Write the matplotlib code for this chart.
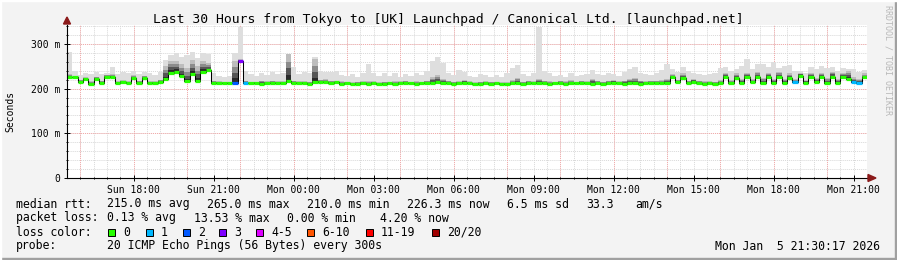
import numpy as np
import matplotlib
matplotlib.use("Agg")
import matplotlib.pyplot as plt
from matplotlib.patches import Rectangle, Polygon

W, H = 897, 260
STEP_H = 0.2  # one sample every 12 minutes, 150 samples over 30 hours

# median rtt (ms), upper edge of the dense smoke, and max ping (ms)
median = [
    227, 227, 215, 221, 211, 222, 213, 226, 226, 212,
    214, 212, 224, 213, 223, 212, 212, 214, 221, 236,
    238, 228, 216, 232, 218, 238, 241, 213, 212, 212,
    212, 213, 262, 212, 212, 213, 211, 212, 212, 213,
    212, 218, 213, 212, 212, 211, 214, 215, 214, 212,
    214, 211, 212, 210, 211, 212, 211, 212, 210, 211,
    212, 211, 212, 213, 212, 211, 212, 212, 213, 214,
    213, 212, 211, 212, 213, 212, 210, 211, 212, 211,
    212, 211, 210, 212, 212, 211, 213, 212, 213, 212,
    211, 212, 213, 211, 212, 212, 213, 212, 211, 212,
    211, 212, 213, 212, 211, 212, 213, 211, 212, 212,
    213, 212, 213, 225, 214, 224, 212, 215, 212, 211,
    212, 211, 213, 226, 212, 224, 213, 226, 214, 227,
    213, 226, 212, 225, 213, 224, 214, 228, 213, 226,
    214, 226, 212, 227, 213, 226, 222, 214, 212, 225,
]
smoke_dark = [
    232, 224, 220, 226, 216, 227, 218, 231, 232, 217,
    219, 216, 230, 218, 229, 216, 216, 220, 250, 262,
    262, 255, 245, 265, 250, 262, 258, 218, 216, 215,
    215, 262, 266, 218, 215, 215, 218, 216, 218, 216,
    216, 278, 218, 216, 216, 215, 267, 220, 222, 218,
    218, 216, 215, 214, 215, 216, 216, 217, 214, 215,
    215, 216, 216, 218, 215, 216, 215, 218, 225, 230,
    222, 218, 215, 216, 220, 216, 214, 215, 217, 215,
    215, 214, 214, 220, 224, 215, 218, 216, 222, 218,
    216, 215, 218, 216, 220, 215, 218, 216, 222, 218,
    215, 218, 220, 216, 218, 222, 224, 218, 216, 218,
    218, 220, 222, 232, 220, 234, 218, 222, 218, 216,
    216, 215, 219, 234, 220, 234, 222, 236, 222, 237,
    224, 236, 222, 238, 222, 234, 222, 236, 220, 236,
    224, 236, 224, 238, 222, 236, 240, 226, 222, 234,
]
smoke_max = [
    282, 240, 230, 235, 232, 237, 232, 236, 248, 232,
    238, 234, 240, 232, 238, 236, 230, 238, 265, 275,
    280, 270, 275, 282, 268, 280, 278, 236, 228, 226,
    228, 280, 338, 240, 232, 228, 235, 230, 238, 232,
    236, 252, 248, 232, 238, 236, 270, 240, 238, 238,
    240, 230, 228, 232, 226, 235, 256, 234, 228, 234,
    228, 236, 226, 232, 228, 234, 230, 240, 262, 271,
    258, 236, 230, 241, 238, 228, 226, 232, 230, 226,
    230, 226, 234, 245, 252, 232, 228, 234, 338, 240,
    236, 228, 230, 226, 234, 228, 230, 232, 241, 232,
    230, 236, 232, 228, 238, 244, 248, 236, 232, 230,
    236, 242, 256, 244, 238, 248, 240, 236, 232, 230,
    232, 234, 245, 248, 240, 244, 250, 267, 244, 256,
    256, 248, 259, 246, 250, 252, 240, 240, 236, 248,
    244, 250, 246, 248, 240, 246, 243, 244, 238, 242,
]
# samples with packet loss (index -> lost pings)
loss_at = {31: 2, 32: 3, 33: 1, 136: 1, 147: 1, 148: 1}

loss_names = ["0", "1", "2", "3", "4-5", "6-10", "11-19", "20/20"]
loss_colors = ["#26ff00", "#00b8ff", "#0059ff", "#7e00ff",
               "#dd00ff", "#ff5500", "#ff0000", "#a00000"]

tick_hours = [2.5, 5.5, 8.5, 11.5, 14.5, 17.5, 20.5, 23.5, 26.5, 29.5]
tick_labels = ["Sun 18:00", "Sun 21:00", "Mon 00:00", "Mon 03:00", "Mon 06:00",
               "Mon 09:00", "Mon 12:00", "Mon 15:00", "Mon 18:00", "Mon 21:00"]

MONO = "DejaVu Sans Mono"
plt.rcParams["font.family"] = MONO

fig = plt.figure(figsize=(W / 100, H / 100), dpi=100, facecolor="#f3f3f3")
px = lambda x, y: (x / W, 1 - y / H)

# 3d frame of the canvas
fig.patches.append(Rectangle((0, 0), 1, 2 / H, transform=fig.transFigure,
                             color="#a0a0a0", zorder=0))
fig.patches.append(Rectangle((1 - 2 / W, 0), 2 / W, 1, transform=fig.transFigure,
                             color="#a0a0a0", zorder=0))
fig.patches.append(Rectangle((0, 1 - 1 / H), 1, 1 / H, transform=fig.transFigure,
                             color="#ffffff", zorder=0))
fig.patches.append(Rectangle((0, 0), 1 / W, 1, transform=fig.transFigure,
                             color="#ffffff", zorder=0))

ax = fig.add_axes([67 / W, 82 / H, 800 / W, 153 / H])
ax.set_facecolor("white")
ymax = 153 / 0.447
ax.set_xlim(0, 30)
ax.set_ylim(0, ymax)

# grid
for h in np.arange(0, 30.01, 0.5):
    ax.axvline(h, color="#d8d8d8", lw=0.7, ls=(0, (1, 1)), zorder=0.5)
for v in np.arange(20, ymax, 20):
    ax.axhline(v, color="#d8d8d8", lw=0.7, ls=(0, (1, 1)), zorder=0.5)
for h in np.arange(0.5, 30, 2):
    ax.axvline(h, color="#f4a8a8", lw=0.7, ls=(0, (1, 1)), zorder=0.6)
for v in [100, 200, 300]:
    ax.axhline(v, color="#f4a8a8", lw=0.7, ls=(0, (1, 1)), zorder=0.6)

# smoke
n = len(median)
xe = np.arange(n + 1) * STEP_H
med = np.array(median + median[-1:], dtype=float)
dark = np.array(smoke_dark + smoke_dark[-1:], dtype=float)
top = np.array(smoke_max + smoke_max[-1:], dtype=float)
ax.fill_between(xe, med, top, step="post", color="#dedede", lw=0, zorder=1)
for f, c in [(1.0, "#bdbdbd"), (0.7, "#8c8c8c"), (0.45, "#555555"), (0.2, "#2a2a2a")]:
    ax.fill_between(xe, med, med + (dark - med) * f, step="post", color=c, lw=0, zorder=1.1)

# median line coloured by loss
ax.step(xe, med, where="post", color="black", lw=0.75, zorder=2)
for i, m in enumerate(median):
    k = loss_at.get(i, 0)
    ax.hlines(m, i * STEP_H, (i + 1) * STEP_H, color=loss_colors[k], lw=2.3, zorder=3)

# axes and ticks
for s in ["top", "right"]:
    ax.spines[s].set_visible(False)
for s in ["bottom", "left"]:
    ax.spines[s].set_linewidth(0.8)
    ax.spines[s].set_zorder(4)
ax.set_xticks(tick_hours)
ax.set_xticklabels(tick_labels)
ax.set_xticks(np.arange(0.5, 30, 0.5), minor=True)
ax.set_yticks([0, 100, 200, 300])
ax.set_yticklabels(["0", "100 m", "200 m", "300 m"])
ax.set_yticks(np.arange(20, ymax, 20), minor=True)
ax.tick_params(which="major", direction="inout", length=4, width=0.7,
               labelsize=7, pad=3, colors="black")
ax.tick_params(which="minor", direction="inout", length=2, width=0.7)
fig.text(*px(10, 111), "Seconds", rotation=90, ha="center", va="center", fontsize=7)

arrow = "#8b1a1a"
fig.patches.append(Polygon([px(63.5, 24), px(70.5, 24), px(67, 17)], closed=True,
                           transform=fig.transFigure, color=arrow, zorder=5))
fig.patches.append(Polygon([px(868, 174.5), px(868, 181.5), px(876, 178)], closed=True,
                           transform=fig.transFigure, color=arrow, zorder=5))

fig.text(*px(448, 19), "Last 30 Hours from Tokyo to [UK] Launchpad / Canonical Ltd. [launchpad.net]",
         ha="center", va="center", fontsize=9.4)
fig.text(*px(888, 60), "RRDTOOL / TOBI OETIKER", rotation=-90, ha="center", va="center",
         fontsize=6, color="#b8b8b8")

fs = 8.3
rows = [
    (204, [(16, "median rtt:"), (107, "215.0 ms avg"), (207, "265.0 ms max"),
           (307, "210.0 ms min"), (407, "226.3 ms now"), (507, "6.5 ms sd"),
           (586, "33.3"), (635, "am/s")]),
    (218, [(16, "packet loss:"), (107, "0.13 % avg"), (194, "13.53 % max"),
           (287, "0.00 % min"), (380, "4.20 % now")]),
    (232, [(16, "loss color:")]),
    (246, [(16, "probe:"), (107, "20 ICMP Echo Pings (56 Bytes) every 300s")]),
]
for y, items in rows:
    for x, t in items:
        fig.text(*px(x, y), t, ha="left", va="center", fontsize=fs)

box_x = [108, 146, 183, 219, 256, 307, 366, 432]
for bx, name, col in zip(box_x, loss_names, loss_colors):
    fig.patches.append(Rectangle(px(bx, 236), 7 / W, 7 / H, transform=fig.transFigure,
                                 facecolor=col, edgecolor="black", lw=0.7, zorder=5))
    fig.text(*px(bx + 15, 232), name, ha="left", va="center", fontsize=fs)

fig.text(*px(880, 246), "Mon Jan  5 21:30:17 2026", ha="right", va="center", fontsize=fs)

fig.savefig("out.png", dpi=100, facecolor=fig.get_facecolor())
